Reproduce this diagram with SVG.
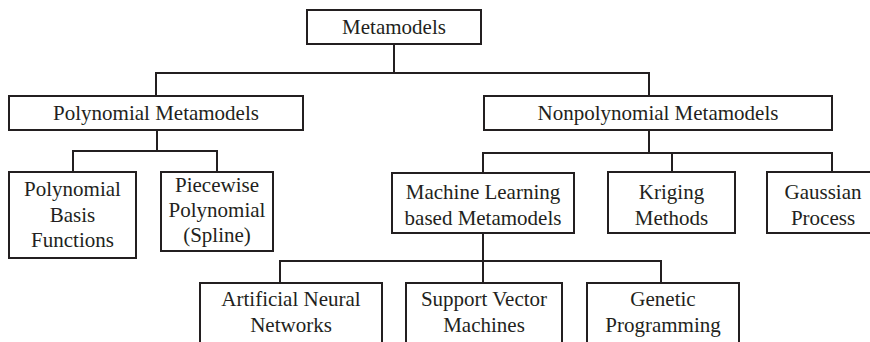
<svg xmlns="http://www.w3.org/2000/svg" width="870" height="342" viewBox="0 0 870 342">
<style>
.box{fill:#fff;stroke:#231f20;stroke-width:2}
.ln{fill:none;stroke:#231f20;stroke-width:2}
text{font-size:21px;fill:#231f20;text-anchor:middle}
</style>
<rect width="870" height="342" fill="#fff"/>
<g id="connectors">
<path class="ln" d="M394 44V73M156 96V73H649V96"/>
<path class="ln" d="M157 130V151M73 172V151H217V172"/>
<path class="ln" d="M649 130V153M483 172V153H832V172M672 153V172"/>
<path class="ln" d="M483 233V261M280 283V261H661V283M483 261V283"/>
</g>
<g font-family="Liberation Serif, Times New Roman, serif">
<g id="metamodels"><rect class="box" x="307" y="10" width="174" height="34"/><text x="394" y="34">Metamodels</text></g>
<g id="polynomial"><rect class="box" x="9" y="96" width="294" height="34"/><text x="156" y="120">Polynomial Metamodels</text></g>
<g id="nonpolynomial"><rect class="box" x="484" y="96" width="348" height="34"/><text x="658" y="120">Nonpolynomial Metamodels</text></g>
<g id="basis"><rect class="box" x="9" y="172" width="127" height="86"/><text x="72.5" y="196">Polynomial</text><text x="72.5" y="221.5">Basis</text><text x="72.5" y="247">Functions</text></g>
<g id="spline"><rect class="box" x="161" y="172" width="112" height="79"/><text x="217" y="192">Piecewise</text><text x="217" y="217">Polynomial</text><text x="217" y="242">(Spline)</text></g>
<g id="ml"><rect class="box" x="392" y="173" width="182" height="60"/><text x="483" y="199">Machine Learning</text><text x="483" y="224.5">based Metamodels</text></g>
<g id="kriging"><rect class="box" x="608" y="172" width="127" height="61"/><text x="671.5" y="199">Kriging</text><text x="671.5" y="224.5">Methods</text></g>
<g id="gaussian"><rect class="box" x="767" y="172" width="120" height="61"/><text x="823" y="199">Gaussian</text><text x="823" y="224.5">Process</text></g>
<g id="ann"><rect class="box" x="200" y="283" width="182" height="70"/><text x="291" y="306">Artificial Neural</text><text x="291" y="331.5">Networks</text></g>
<g id="svm"><rect class="box" x="406" y="283" width="156" height="70"/><text x="484" y="306">Support Vector</text><text x="484" y="331.5">Machines</text></g>
<g id="gp"><rect class="box" x="587" y="283" width="152" height="70"/><text x="663" y="306">Genetic</text><text x="663" y="331.5">Programming</text></g>
</g>
</svg>
